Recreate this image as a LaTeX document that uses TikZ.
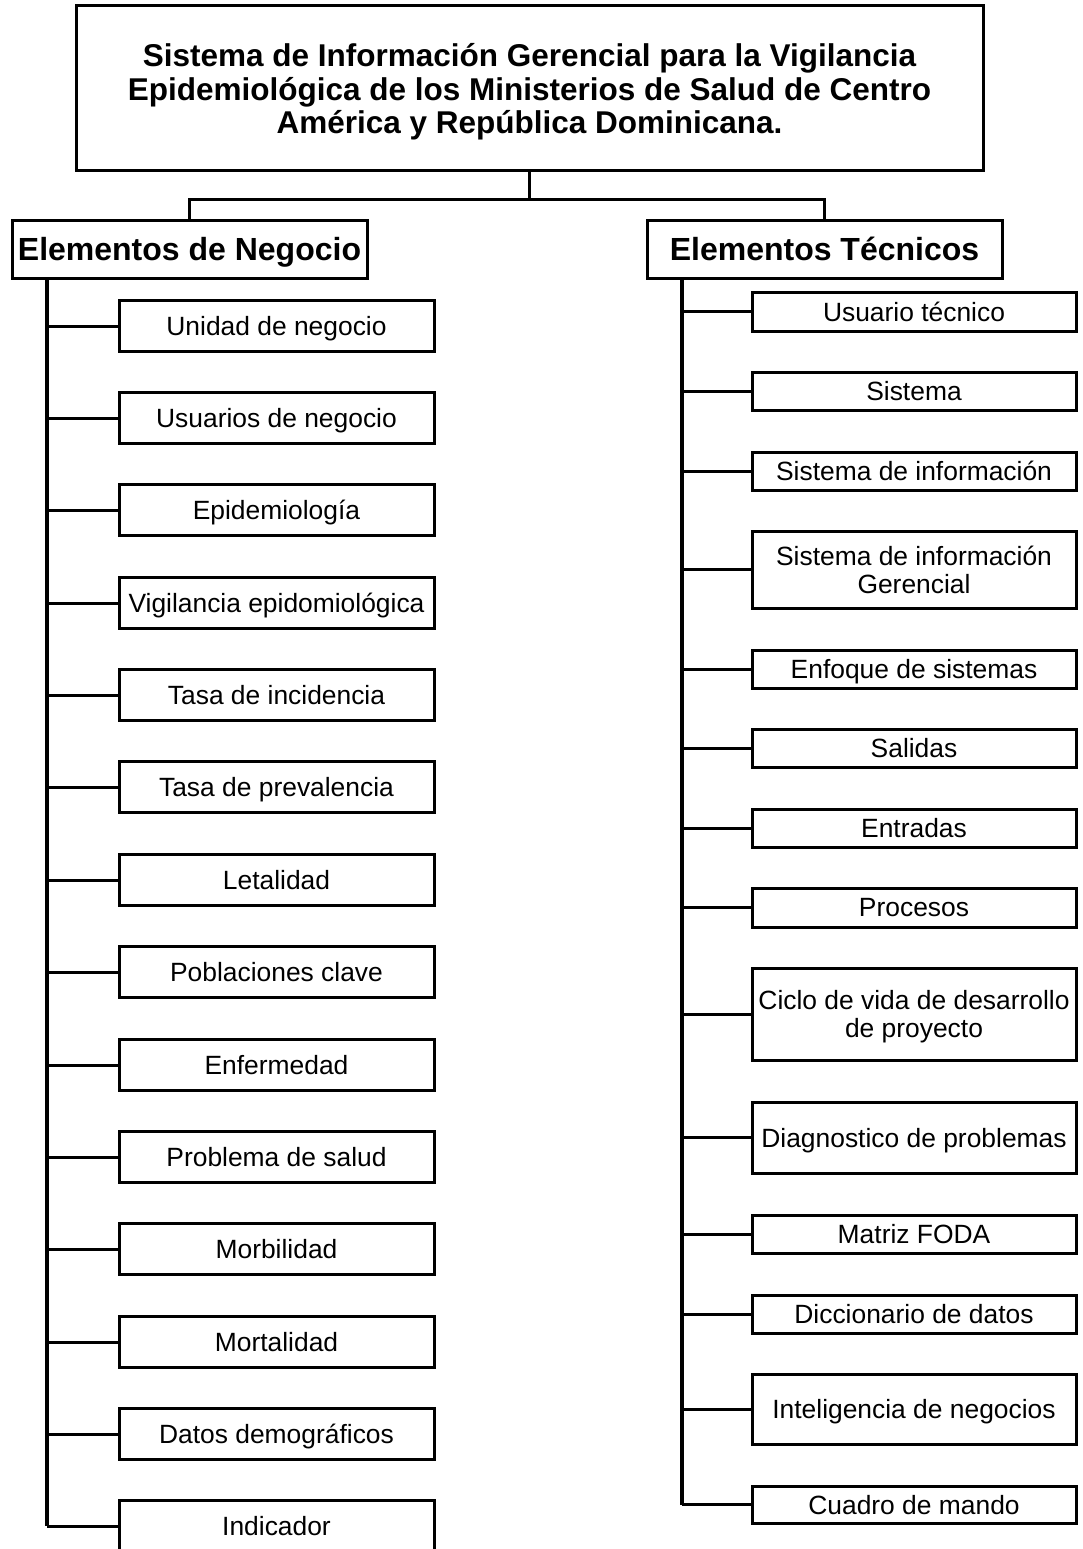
\documentclass[tikz,border=0pt]{standalone}
\usepackage{fontspec}
\setmainfont{Liberation Sans}
\begin{document}
\begin{tikzpicture}[x=1pt,y=-1pt,
  box/.style={draw, line width=3pt, inner sep=0pt, align=center, fill=white, text depth=0pt},
  titlebox/.style={box, minimum width=907pt, minimum height=165pt,
    font=\fontsize{31.5}{33.5}\selectfont\bfseries},
  headbox/.style={box, minimum width=355pt, minimum height=58pt,
    font=\fontsize{32}{34}\selectfont\bfseries},
  leaf/.style={box, font=\fontsize{26.4}{28}\selectfont},
  lleaf/.style={leaf, minimum width=315pt, minimum height=51pt},
  rleaf/.style={leaf, minimum width=324pt},
  link/.style={line width=3pt},
  trunk/.style={line width=3.5pt}]

% page area
\fill[white] (0,0) rectangle (1082,1549);
\clip (0,0) rectangle (1082,1549);

% root
\node[titlebox] (root) at (529.5,88.5)
  {Sistema de Información Gerencial para la Vigilancia\\
   Epidemiológica de los Ministerios de Salud de Centro\\
   América y República Dominicana.};

% two main branches
\node[headbox] (neg) at (189.5,249) {Elementos de Negocio};
\node[headbox] (tec) at (824.5,249) {Elementos Técnicos};

\draw[link] (root.south) -- ++(0,27) coordinate (fork);
\draw[link] (fork) -| (neg.north);
\draw[link] (fork) -| (tec.north);

% business elements
\node[lleaf] (l1)  at (276.5,326)  {Unidad de negocio};
\node[lleaf] (l2)  at (276.5,418)  {Usuarios de negocio};
\node[lleaf] (l3)  at (276.5,510)  {Epidemiología};
\node[lleaf] (l4)  at (276.5,603)  {Vigilancia epidomiológica};
\node[lleaf] (l5)  at (276.5,695)  {Tasa de incidencia};
\node[lleaf] (l6)  at (276.5,787)  {Tasa de prevalencia};
\node[lleaf] (l7)  at (276.5,880)  {Letalidad};
\node[lleaf] (l8)  at (276.5,972)  {Poblaciones clave};
\node[lleaf] (l9)  at (276.5,1065) {Enfermedad};
\node[lleaf] (l10) at (276.5,1157) {Problema de salud};
\node[lleaf] (l11) at (276.5,1249) {Morbilidad};
\node[lleaf] (l12) at (276.5,1342) {Mortalidad};
\node[lleaf] (l13) at (276.5,1434) {Datos demográficos};
\node[lleaf] (l14) at (276.5,1526) {Indicador};

% technical elements
\node[rleaf, minimum height=39pt] (r1)  at (914,311.5)  {Usuario técnico};
\node[rleaf, minimum height=38pt] (r2)  at (914,391)    {Sistema};
\node[rleaf, minimum height=38pt] (r3)  at (914,471)    {Sistema de información};
\node[rleaf, minimum height=77pt] (r4)  at (914,569.5)  {Sistema de información\\Gerencial};
\node[rleaf, minimum height=38pt] (r5)  at (914,669)    {Enfoque de sistemas};
\node[rleaf, minimum height=38pt] (r6)  at (914,748)    {Salidas};
\node[rleaf, minimum height=38pt] (r7)  at (914,828)    {Entradas};
\node[rleaf, minimum height=39pt] (r8)  at (914,907.5)  {Procesos};
\node[rleaf, minimum height=92pt] (r9)  at (914,1014)   {Ciclo de vida de desarrollo\\de proyecto};
\node[rleaf, minimum height=71pt] (r10) at (914,1137.5) {Diagnostico de problemas};
\node[rleaf, minimum height=38pt] (r11) at (914,1234)   {Matriz FODA};
\node[rleaf, minimum height=38pt] (r12) at (914,1314)   {Diccionario de datos};
\node[rleaf, minimum height=70pt] (r13) at (914,1409)   {Inteligencia de negocios};
\node[rleaf, minimum height=37pt] (r14) at (914,1504.5) {Cuadro de mando};

% trunks and branches
\coordinate (lt) at (47,278);
\coordinate (rt) at (682,278);
\draw[trunk] (lt) -- (lt |- l14.west);
\draw[trunk] (rt) -- (rt |- r14.west);
\foreach \n in {l1,l2,l3,l4,l5,l6,l7,l8,l9,l10,l11,l12,l13,l14}
  \draw[link] (lt |- \n.west) -- (\n.west);
\foreach \n in {r1,r2,r3,r4,r5,r6,r7,r8,r9,r10,r11,r12,r13,r14}
  \draw[link] (rt |- \n.west) -- (\n.west);
\end{tikzpicture}
\end{document}
